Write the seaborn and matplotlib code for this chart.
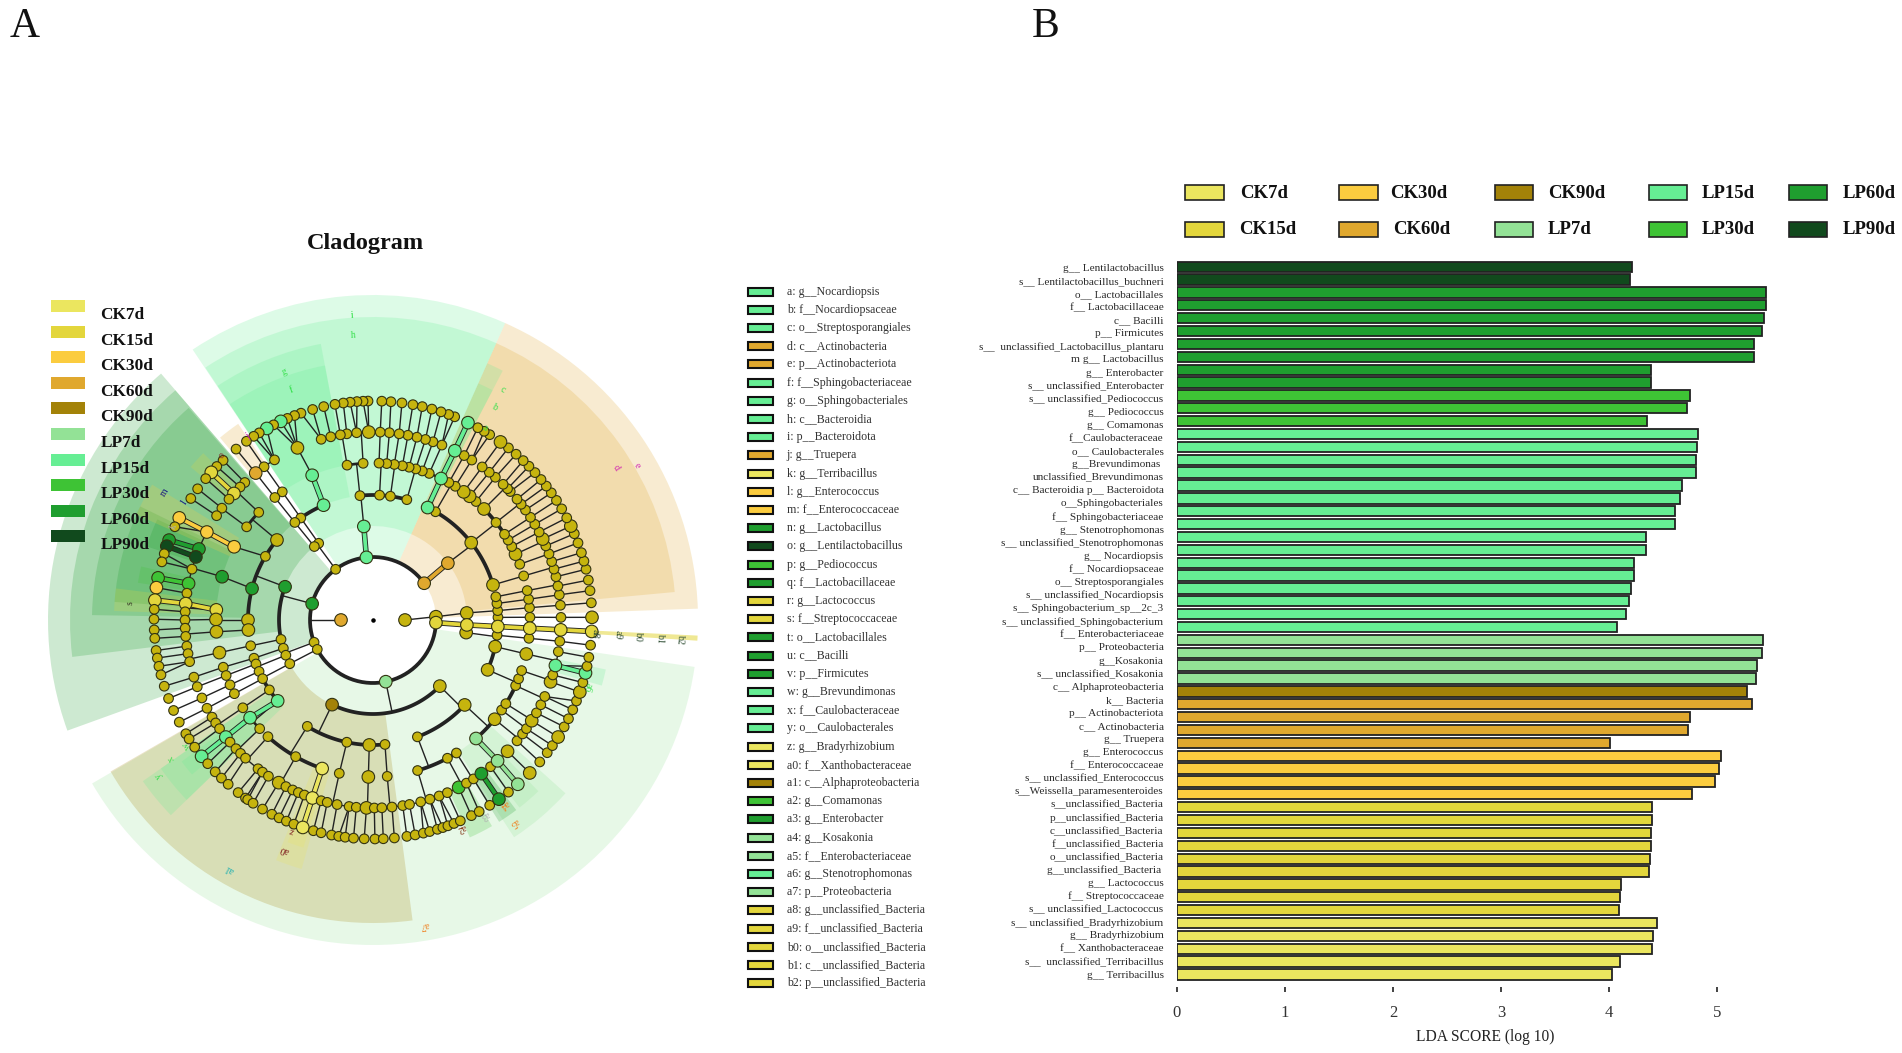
import numpy as np
import pandas as pd
import matplotlib
matplotlib.use("Agg")
import matplotlib.pyplot as plt
from matplotlib.patches import Rectangle
import seaborn as sns

sns.set_theme(style="white")
plt.rcParams["font.family"] = ["Liberation Serif", "DejaVu Sans"]

W, H = 1902, 1053

# groups and colours
groups = ["CK7d", "CK15d", "CK30d", "CK60d", "CK90d", "LP7d", "LP15d", "LP30d", "LP60d", "LP90d"]
colors = ["#EBE65F", "#E3D63C", "#FBCC3F", "#E0A82E", "#A38208", "#93E296", "#66EE94", "#3EC335", "#1F9E2F", "#114A1D"]
palette = dict(zip(groups, colors))

# panel B values. 56 bars but only 55 text lines, two taxa share one line in the figure
bar_labels = [
    "g__ Lentilactobacillus", "s__ Lentilactobacillus_buchneri", "o__ Lactobacillales", "f__ Lactobacillaceae",
    "c__ Bacilli", "p__ Firmicutes", "s__  unclassified_Lactobacillus_plantaru", "m g__ Lactobacillus",
    "g__ Enterobacter", "s__ unclassified_Enterobacter", "s__ unclassified_Pediococcus", "g__ Pediococcus",
    "g__ Comamonas", "f__Caulobacteraceae", "o__ Caulobacterales", "g__Brevundimonas ",
    "unclassified_Brevundimonas", "c__ Bacteroidia p__ Bacteroidota", "o__Sphingobacteriales", "f__ Sphingobacteriaceae",
    "g__ Stenotrophomonas", "s__ unclassified_Stenotrophomonas", "g__ Nocardiopsis", "f__ Nocardiopsaceae",
    "o__ Streptosporangiales", "s__ unclassified_Nocardiopsis", "s__ Sphingobacterium_sp__2c_3", "s__ unclassified_Sphingobacterium",
    "f__ Enterobacteriaceae", "p__ Proteobacteria", "g__Kosakonia", "s__ unclassified_Kosakonia",
    "c__ Alphaproteobacteria", "k__ Bacteria", "p__ Actinobacteriota", "c__ Actinobacteria",
    "g__ Truepera", "g__ Enterococcus", "f__ Enterococcaceae", "s__ unclassified_Enterococcus",
    "s__Weissella_paramesenteroides", "s__unclassified_Bacteria", "p__unclassified_Bacteria", "c__unclassified_Bacteria",
    "f__unclassified_Bacteria", "o__unclassified_Bacteria", "g__unclassified_Bacteria ", "g__ Lactococcus",
    "f__ Streptococcaceae", "s__ unclassified_Lactococcus", "s__ unclassified_Bradyrhizobium", "g__ Bradyrhizobium",
    "f__ Xanthobacteraceae", "s__  unclassified_Terribacillus", "g__ Terribacillus",
]
bar_values = [
    4.21, 4.19, 5.449, 5.449, 5.433, 5.418, 5.34, 5.34, 4.388, 4.388, 4.748, 4.718, 4.351,
    4.82, 4.81, 4.804, 4.804, 4.677, 4.656, 4.613, 4.607, 4.344, 4.344, 4.233, 4.227, 4.203, 4.187, 4.159, 4.076,
    5.421, 5.412, 5.368, 5.356, 5.273, 5.319, 4.748, 4.733, 4.006, 5.038, 5.016, 4.983, 4.764,
    4.40, 4.394, 4.388, 4.388, 4.381, 4.366, 4.113, 4.104, 4.089, 4.446, 4.403, 4.397, 4.104, 4.027,
]
bar_groups = (["LP90d"] * 2 + ["LP60d"] * 8 + ["LP30d"] * 3 + ["LP15d"] * 16 + ["LP7d"] * 4 + ["CK90d"] * 1
              + ["CK60d"] * 4 + ["CK30d"] * 4 + ["CK15d"] * 9 + ["CK7d"] * 5)

# cladogram key
key_labels = [
    "a: g__Nocardiopsis", "b: f__Nocardiopsaceae", "c: o__Streptosporangiales", "d: c__Actinobacteria",
    "e: p__Actinobacteriota", "f: f__Sphingobacteriaceae", "g: o__Sphingobacteriales", "h: c__Bacteroidia",
    "i: p__Bacteroidota", "j: g__Truepera", "k: g__Terribacillus", "l: g__Enterococcus", "m: f__Enterococcaceae",
    "n: g__Lactobacillus", "o: g__Lentilactobacillus", "p: g__Pediococcus", "q: f__Lactobacillaceae",
    "r: g__Lactococcus", "s: f__Streptococcaceae", "t: o__Lactobacillales", "u: c__Bacilli", "v: p__Firmicutes",
    "w: g__Brevundimonas", "x: f__Caulobacteraceae", "y: o__Caulobacterales", "z: g__Bradyrhizobium",
    "a0: f__Xanthobacteraceae", "a1: c__Alphaproteobacteria", "a2: g__Comamonas", "a3: g__Enterobacter",
    "a4: g__Kosakonia", "a5: f__Enterobacteriaceae", "a6: g__Stenotrophomonas", "a7: p__Proteobacteria",
    "a8: g__unclassified_Bacteria", "a9: f__unclassified_Bacteria", "b0: o__unclassified_Bacteria",
    "b1: c__unclassified_Bacteria", "b2: p__unclassified_Bacteria",
]
key_groups = [
    "LP15d", "LP15d", "LP15d", "CK60d", "CK60d", "LP15d", "LP15d", "LP15d", "LP15d", "CK60d", "CK7d", "CK30d", "CK30d",
    "LP60d", "LP90d", "LP30d", "LP60d", "CK15d", "CK15d", "LP60d", "LP60d", "LP60d", "LP15d", "LP15d", "LP15d", "CK7d",
    "CK7d", "CK90d", "LP30d", "LP60d", "LP7d", "LP7d", "LP15d", "LP7d", "CK15d", "CK15d", "CK15d", "CK15d", "CK15d",
]

# cladogram nodes, angle in degrees on each ring, from the centre out
ring0 = [0, 180]
ring1 = [3, 35.7, 96, 126.4, 165, 200.7, 207.8, 281.7, 357.6]
ring2 = [4.3, 37.2, 95.6, 125.3, 128.6, 159.3, 191.9, 197.5, 202, 207.7, 244.2, 315.3, 352.3, 357]
ring3 = [1.2, 4.3, 7.6, 10.7, 16.3, 38.2, 60, 64.1, 74.3, 82, 87, 96, 113.3, 125.3, 128.7, 140.2, 149.4, 165.4, 180,
         184.6, 191.9, 197.8, 200.6, 204.3, 208, 214, 220.3, 238.3, 257.9, 268.3, 275.5, 290.8, 317.2, 336.5, 347.7,
         353, 357]
ring4 = [1, 4.5, 7.6, 10.8, 16.3, 20.8, 24.8, 27.9, 30.6, 33.1, 38.4, 45, 49, 52, 54.7, 58.4, 61.1, 64.3, 69, 71.7,
         74.2, 76.7, 79.2, 82.2, 85, 87.8, 93.6, 99.5, 112.8, 125.3, 128.7, 136.7, 143.6, 152.2, 164, 176.3, 179.8,
         184.3, 192, 197.5, 200.7, 204.4, 208, 214, 218.5, 223.8, 228, 240.5, 251.1, 257.6, 268.3, 275.2, 286.5,
         298.3, 302.1, 311, 320.8, 325, 327.8, 335.3, 338, 341.2, 347.5, 353.3, 357]
ring5 = [0.8, 4.5, 7.7, 10.4, 13.3, 15.7, 18.1, 20.6, 23.2, 25.5, 27.9, 30.6, 33.1, 35.8, 38, 40, 43.1, 44.3, 46.2,
         49.4, 51.8, 54.5, 58.3, 61, 64.2, 68.5, 71.4, 73.8, 76.5, 79.3, 82, 85, 87.8, 91.3, 95, 98, 100, 103, 106,
         113.7, 121.6, 125.4, 128.6, 133, 135, 137.7, 140, 143.5, 146.3, 152.1, 157.8, 160.4, 164.3, 168.8, 171.8,
         175, 177.5, 180, 182.5, 185, 188, 190.3, 192.8, 197.7, 200.8, 204.5, 208, 211.1, 213.2, 215.3, 218.5, 220.5,
         223.2, 225.2, 227.3, 232.3, 234, 236.2, 239.9, 242.4, 244.7, 246.6, 248.6, 251.2, 254, 255.9, 259, 262.7,
         264.9, 268, 270.4, 272.7, 275.8, 279.1, 281.2, 284.7, 287.6, 290.6, 293.3, 297.1, 299.8, 302.3, 305.2, 308.7,
         311.5, 315.7, 320, 322.7, 324.7, 327.6, 330.4, 333.2, 336, 340.8, 343, 346, 350.3, 353.5, 357]
ring6 = [0.7, 4.5, 7.7, 10.5, 13.4, 15.6, 17.9, 20.6, 23.2, 25.4, 27.8, 30.5, 33.1, 35.5, 37.7, 39.9, 42.3, 44.6, 46.7,
         49.2, 51.8, 54.4, 57.8, 59.5, 61.4, 64.3, 68.1, 69.8, 71.9, 74.4, 77, 79.5, 82.4, 85.3, 87.7, 91.3, 92.6, 94.2,
         96, 97.8, 100, 103, 106, 109.2, 111, 113, 114.9, 117, 119, 121.3, 123, 125.3, 128.7, 133.2, 135.5, 137.6,
         139.8, 143.2, 146.3, 152.2, 154.8, 158.6, 160.3, 162.4, 164.6, 168.9, 171.5, 174.8, 177.2, 179.8, 182.6, 184.8,
         188, 190, 192.2, 194.5, 197.6, 201, 204.4, 207.8, 211.3, 212.9, 215.5, 218.5, 221, 223.9, 226.2, 228.6, 232,
         234.4, 235.1, 236.8, 239.7, 242.5, 244.6, 246.7, 248.8, 251.3, 254.2, 256.3, 259.1, 261, 262.7, 264.9, 267.7,
         270.5, 272.7, 275.6, 278.9, 281.1, 283.3, 285, 287.1, 288.6, 290, 291.7, 293.5, 296.7, 299, 302.2, 305.1, 308.2,
         311.4, 315.7, 319.6, 322.7, 325, 327.7, 330.8, 333.2, 335.8, 338.3, 340.8, 343.4, 346, 347.8, 350.2, 353.4, 357]
rings = [ring0, ring1, ring2, ring3, ring4, ring5, ring6]

# nodes the nearest-angle rule would hang on the wrong parent
parent_fix = {
    1: {35.7: 180, 281.7: 180, 357.6: 180},
    2: {191.9: 165, 244.2: 281.7},
    3: {16.3: 37.2, 64.1: 37.2, 60: 37.2, 140.2: 159.3, 149.4: 159.3, 165.4: 159.3, 180: 159.3, 184.6: 159.3,
        353: 352.3},
    4: {20.8: 38.2, 24.8: 38.2, 27.9: 38.2, 30.6: 38.2, 33.1: 38.2, 38.4: 38.2, 45: 38.2, 49: 38.2, 52: 38.2,
        54.7: 38.2, 228: 238.3, 251.1: 238.3, 325: 336.5, 327.8: 336.5},
}

# coloured nodes: group -> (ring, angle)
marked = {
    "LP15d": [(3, 64.1), (4, 64.3), (5, 64.2), (6, 64.3), (1, 96), (2, 95.6), (3, 113.3), (4, 112.8), (6, 114.9),
              (6, 119), (3, 220.3), (4, 218.5), (5, 218.5), (6, 218.5), (5, 346), (6, 346)],
    "LP7d": [(1, 281.7), (4, 311), (5, 311.5), (6, 311.4)],
    "LP60d": [(1, 165), (2, 159.3), (3, 165.4), (4, 164), (5, 157.8), (6, 158.6), (5, 305.2), (6, 305.1)],
    "LP30d": [(5, 297.1), (5, 168.8), (6, 168.9)],
    "LP90d": [(5, 160.4), (6, 160.3)],
    "CK30d": [(4, 152.2), (5, 152.1), (6, 152.2), (6, 171.5)],
    "CK15d": [(4, 176.3), (5, 175), (6, 174.8), (5, 137.7), (6, 137.6), (1, 357.6), (2, 357), (3, 357), (4, 357),
              (5, 357), (6, 357)],
    "CK7d": [(4, 251.1), (5, 251.2), (6, 251.3)],
    "CK60d": [(0, 180), (1, 35.7), (2, 37.2), (5, 128.6)],
    "CK90d": [(2, 244.2)],
}
big_nodes = [(0, 0), (1, 3), (2, 4.3), (2, 315.3), (2, 352.3), (3, 38.2), (3, 268.3), (3, 317.2), (3, 336.5), (3, 347.7),
             (3, 16.3), (3, 140.2), (3, 180), (3, 184.6), (4, 54.7), (4, 52), (4, 45), (4, 24.8), (4, 320.8), (4, 268.3),
             (4, 347.5), (4, 192), (4, 184.3), (4, 179.8), (5, 25.5), (5, 340.8), (5, 327.6), (5, 315.7), (5, 239.9),
             (5, 113.7), (5, 268), (5, 91.3), (6, 54.4), (6, 25.4), (6, 0.7), (6, 315.7), (6, 327.7), (6, 340.8)]

# shaded sectors: group, start, end, level (0 phylum ... 4 genus)
sectors = [
    ("LP7d", 210.2, 351.7, 0), ("CK90d", 210, 277.5, 1), ("LP15d", 215, 224, 2), ("LP15d", 215, 224, 3),
    ("LP15d", 216.5, 220.5, 4), ("CK7d", 248, 254, 3), ("CK7d", 249, 253, 4), ("LP7d", 303, 318, 3),
    ("LP7d", 308, 314, 4), ("LP60d", 302, 307, 4), ("LP30d", 294, 300, 4), ("LP15d", 344, 348, 4),
    ("CK60d", 2, 66, 0), ("CK60d", 5.3, 66, 1), ("LP15d", 66, 123.7, 0), ("LP15d", 66, 123.6, 1),
    ("LP15d", 100.7, 123.6, 2), ("LP15d", 100.7, 123.6, 3), ("LP15d", 62.5, 66, 2), ("LP15d", 62.5, 66, 3),
    ("CK60d", 124.5, 130, 4), ("LP60d", 130.7, 199.9, 0), ("LP60d", 130.7, 187, 1), ("LP60d", 131, 179, 2),
    ("LP60d", 154, 176, 3), ("LP60d", 155, 162, 4), ("LP30d", 167, 171, 4), ("CK30d", 148.5, 156, 3),
    ("CK15d", 173, 178, 3), ("CK15d", 135.5, 140, 4),
]
sector_inner = [63, 94, 125, 157, 188]
sector_outer = [325, 303, 281, 259, 238]

# letters around the cladogram: text, radius, angle, colour
tags = [
    ("i", 305, 94, "#33E04A"), ("h", 285, 94, "#33E04A"), ("g", 263, 109.7, "#33E04A"), ("f", 244, 109.6, "#33E04A"),
    ("c", 264, 60.5, "#33E04A"), ("b", 245, 60.4, "#33E04A"), ("a", 222, 59.9, "#33E04A"), ("d", 287, 32, "#D020B0"),
    ("e", 306, 30.4, "#D020B0"), ("m", 244, 148.4, "#1A1A80"), ("l", 222, 148, "#1A1A80"), ("s", 243, 176, "#333322"),
    ("y", 265, 216, "#33E04A"), ("x", 245, 214.5, "#33E04A"), ("w", 225, 214, "#33E04A"), ("a1", 287, 240, "#20B0B0"),
    ("a0", 246, 249, "#802020"), ("z", 226, 249, "#802020"), ("a7", 309, 279.5, "#F08020"), ("a5", 247, 305, "#F08020"),
    ("a4", 227, 305.4, "#F08020"), ("a2", 226, 293, "#803010"), ("a3", 225, 299.7, "#B0B0B0"), ("a6", 225, 342.7, "#33E04A"),
    ("b2", 308, 356.5, "#2A4A30"), ("b1", 288, 356.5, "#2A4A30"), ("b0", 266, 356.5, "#2A4A30"), ("a9", 245, 356.5, "#2A4A30"),
    ("a8", 222, 356.5, "#2A4A30"), ("o", 223, 132.6, "#802020"), ("j", 222, 124.4, "#D020B0"), ("k", 220, 155, "#B0B0B0"),
]

ring_r = [32, 63, 94, 125, 157, 188, 219]
line_col = "#222222"
node_col = "#C6B40E"

fig = plt.figure(figsize=(W / 100, H / 100), dpi=100, facecolor="white")


def px_axes(left, top, right, bottom, **kw):
    return fig.add_axes([left / W, 1 - bottom / H, (right - left) / W, (bottom - top) / H], **kw)


# ---- panel A, cladogram
cx, cy, rmax = 373, 620, 332
ax_c = px_axes(cx - rmax, cy - rmax, cx + rmax, cy + rmax, projection="polar")

for grp, a0, a1, lev in sectors:
    ax_c.bar(np.deg2rad((a0 + a1) / 2), sector_outer[lev] - sector_inner[lev], width=np.deg2rad(a1 - a0),
             bottom=sector_inner[lev], color=palette[grp], alpha=0.22, linewidth=0, zorder=1)
# the unclassified strip runs across every level
ax_c.bar(np.deg2rad(356.8), 325 - 63, width=np.deg2rad(0.9), bottom=63, color=palette["CK15d"], alpha=0.55,
         linewidth=0, zorder=1)

mark_of = {}
for grp, items in marked.items():
    for item in items:
        mark_of[item] = grp


def ang_diff(a, b):
    return (a - b + 180) % 360 - 180


for level in range(1, 7):
    kids = {}
    for child in rings[level]:
        fix = parent_fix.get(level, {})
        if child in fix:
            par = fix[child]
        else:
            par = min(rings[level - 1], key=lambda p: abs(ang_diff(child, p)))
        kids.setdefault(par, []).append(child)
    r0, r1 = ring_r[level - 1], ring_r[level]
    for par, children in kids.items():
        offs = [ang_diff(c, par) for c in children]
        if len(children) == 1 or level == 6:
            for c in children:
                ax_c.plot(np.deg2rad([par, c]), [r0, r1], color=line_col, lw=1.0, zorder=3)
        else:
            span = max(offs) - min(offs)
            th = np.deg2rad(par + np.linspace(min(min(offs), 0), max(max(offs), 0), 80))
            if level >= 5:
                lw = 1.0
            else:
                lw = 0.9 + 1.8 * min(span / 10, 1)
            ax_c.plot(th, np.full(th.shape, r1), color=line_col, lw=lw, zorder=3, solid_capstyle="round")
            ax_c.plot(np.deg2rad([par, par]), [r0, r1], color=line_col, lw=1.0, zorder=3)
        for c in children:
            g_p, g_c = mark_of.get((level - 1, par)), mark_of.get((level, c))
            # only straight chains get the wide coloured link, the LP60d one only on the last step
            if g_p and g_p == g_c and abs(ang_diff(c, par)) < 8 and (g_c != "LP60d" or level == 6):
                ax_c.plot(np.deg2rad([par, c]), [r0, r1], color=line_col, lw=4.0, zorder=3.5)
                ax_c.plot(np.deg2rad([par, c]), [r0, r1], color=palette[g_c], lw=2.7, zorder=3.6)

rows = []
for level, angles in enumerate(rings):
    for ang in angles:
        grp = mark_of.get((level, ang), "none")
        big = grp != "none" or (level, ang) in big_nodes
        rows.append({"theta": np.deg2rad(ang), "r": ring_r[level], "group": grp, "kind": "big" if big else "small"})
nodes = pd.DataFrame(rows)
node_pal = dict(palette, none=node_col)
sns.scatterplot(data=nodes, x="theta", y="r", hue="group", palette=node_pal, size="kind",
                sizes={"big": 82, "small": 48}, edgecolor="#333311", linewidth=0.8, legend=False, zorder=5, ax=ax_c)
ax_c.scatter([0], [0], s=5, color="black", zorder=6)

for txt, r, ang, col in tags:
    ax_c.text(np.deg2rad(ang), r, txt, color=col, fontsize=7, ha="center", va="center", rotation=ang - 90, zorder=7)

ax_c.set_ylim(0, rmax)
ax_c.set_xlabel("")
ax_c.set_ylabel("")
ax_c.axis("off")

# ---- panel B, LDA bars
bars = pd.DataFrame({"bar": range(len(bar_values)), "score": bar_values, "group": bar_groups})
unit = 108.1
bar_top, bar_bottom = 260.3, 980.9
bar_step = (bar_bottom - bar_top) / len(bar_values)
ax_b = px_axes(1176.7, bar_top, 1176.7 + 5.7 * unit, bar_bottom)
sns.barplot(data=bars, y="bar", x="score", hue="group", hue_order=groups, palette=palette, orient="h",
            dodge=False, width=0.8, saturation=1, edgecolor="#222222", linewidth=1.3, legend=False, ax=ax_b)
ax_b.set_xlim(0, 5.7)
ax_b.set_ylim(len(bar_values) - 0.5, -0.5)
# the text lines have their own spacing, they drift away from the bars towards the middle
label_px = 267.3 + np.arange(len(bar_labels)) * 13.09
ax_b.set_yticks((label_px - bar_top) / bar_step - 0.5)
ax_b.set_yticklabels(bar_labels)
ax_b.set_xticks([0, 1, 2, 3, 4, 5])
ax_b.set_xlabel("LDA SCORE (log 10)", fontsize=11.2, color="#222222", labelpad=6)
ax_b.set_ylabel("")
ax_b.tick_params(axis="y", length=0, labelsize=8.1, labelcolor="#2A2A2A", pad=9.5)
ax_b.tick_params(axis="x", length=3.6, width=1.2, color="#222222", labelsize=12, labelcolor="#333333", pad=9, bottom=True)
sns.despine(ax=ax_b, left=True, right=True, top=True, offset={"bottom": 4.5})
ax_b.spines["bottom"].set_visible(False)

# ---- page level text and legends, drawn in pixels
page = fig.add_axes([0, 0, 1, 1])
page.set_xlim(0, W)
page.set_ylim(H, 0)
page.axis("off")

page.text(25, 27, "A", fontsize=30, ha="center", va="center", color="#111111")
page.text(1046, 27, "B", fontsize=30, ha="center", va="center", color="#111111")
page.text(365, 244, "Cladogram", fontsize=17.5, fontweight="bold", ha="center", va="center", color="#111111")

# group legend of panel A
for i, grp in enumerate(groups):
    page.add_patch(Rectangle((50.8, 300 + i * 25.6), 34.6, 12, facecolor=palette[grp], edgecolor="none"))
    page.text(100.6, 315 + i * 25.6, grp, fontsize=12.4, fontweight="bold", ha="left", va="center", color="#111111")

# key between the panels
for i, (txt, grp) in enumerate(zip(key_labels, key_groups)):
    y = 291.6 + i * 18.2
    page.add_patch(Rectangle((748.3, y - 4), 25, 8, facecolor=palette[grp], edgecolor="#111111", linewidth=1.5))
    page.text(786.7, y, txt, fontsize=8.6, ha="left", va="center", color="#333333")

# group legend of panel B
legend_rows = [["CK7d", "CK30d", "CK90d", "LP15d", "LP60d"], ["CK15d", "CK60d", "LP7d", "LP30d", "LP90d"]]
swatch_x = [1185, 1339, 1494.5, 1648.6, 1788.6]
text_x = [[1240, 1390.5, 1548, 1702, 1843], [1239, 1393, 1548, 1702, 1843]]
for row, y in enumerate([192.5, 229]):
    for col, grp in enumerate(legend_rows[row]):
        page.add_patch(Rectangle((swatch_x[col], y - 7.5), 38.5, 15, facecolor=palette[grp], edgecolor="#222222", linewidth=1.2))
        page.text(text_x[row][col], y + 0.5, grp, fontsize=13.5, fontweight="bold", ha="left", va="center", color="#111111")

fig.savefig("out.png", dpi=100, facecolor="white")
